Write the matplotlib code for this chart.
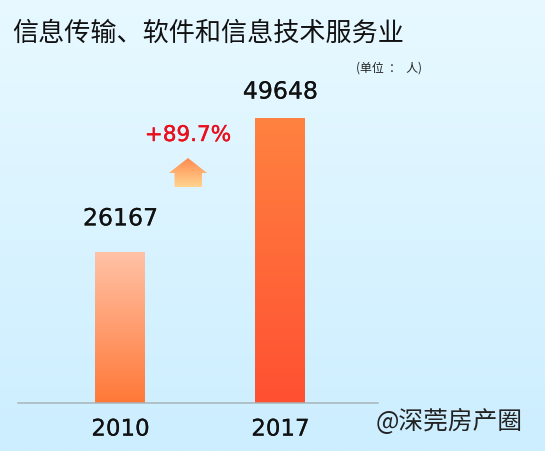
# -*- coding: utf-8 -*-
import numpy as np
import matplotlib
matplotlib.use('Agg')
import matplotlib.pyplot as plt
import matplotlib.patheffects as pe
from matplotlib.colors import LinearSegmentedColormap
from matplotlib.patches import Polygon

plt.rcParams['font.family'] = ['Noto Sans CJK SC', 'DejaVu Sans']

years = ['2010', '2017']
values = [26167, 49648]
growth_label = '+89.7%'
title = '信息传输、软件和信息技术服务业'
unit_label = '(单位  ：  人)'
watermark = '@深莞房产圈'

W, H = 545, 452
fig = plt.figure(figsize=(W / 100, H / 100), dpi=100)

# 背景渐变
bg = fig.add_axes([0, 0, 1, 1], zorder=0)
bg_cmap = LinearSegmentedColormap.from_list('bg', ['#E8F9FF', '#CCEEFF'])
bg.imshow(np.linspace(0, 1, 256).reshape(-1, 1), aspect='auto', cmap=bg_cmap,
          extent=[0, W, H, 0])
bg.set_xlim(0, W)
bg.set_ylim(H, 0)
bg.axis('off')

# 柱状图，基线 y=403px，49648 对应 y=118px
ax = fig.add_axes([18 / W, (H - 403.6) / H, 360 / W, 403 / H], zorder=1)
ax.patch.set_alpha(0)
ylim_top = max(values) * 403 / 285
ax.set_xlim(-0.64, 1.61)
ax.set_ylim(0, ylim_top)
bar_width = 0.3125
bar_colors = [('#FFC2A6', '#FF7838'), ('#FF8240', '#FF5032')]
xs = np.arange(len(years))
bars = ax.bar(xs, values, width=bar_width, color='none')
grad = np.linspace(0, 1, 256).reshape(-1, 1)
for bar, (top, bottom) in zip(bars, bar_colors):
    cmap = LinearSegmentedColormap.from_list('bar', [top, bottom])
    ax.imshow(grad, aspect='auto', cmap=cmap, zorder=2,
              extent=[bar.get_x(), bar.get_x() + bar.get_width(), 0, bar.get_height()])
ax.set_xlim(-0.64, 1.61)
ax.set_ylim(0, ylim_top)

for s in ['top', 'left', 'right']:
    ax.spines[s].set_visible(False)
ax.spines['bottom'].set_color('#A8B4BA')
ax.spines['bottom'].set_linewidth(1.1)
ax.set_yticks([])
ax.set_xticks([])

# 数值和年份标签，两个数值离柱顶的距离不一样
value_offsets = [22, 14]
stroke = [pe.withStroke(linewidth=0.15, foreground='#111111')]
for x, v, y, off in zip(xs, values, years, value_offsets):
    ax.annotate(str(v), (x, v), xytext=(0, off), textcoords='offset pixels',
                ha='center', va='bottom', fontsize=17, color='#111111',
                family='DejaVu Sans', path_effects=stroke)
    ax.annotate(y, (x, 0), xytext=(0, -38), textcoords='offset pixels',
                ha='center', va='bottom', fontsize=16.5, color='#111111',
                family='DejaVu Sans', path_effects=stroke)

# 箭头
arrow = [(188, 159), (207, 174), (202, 174), (202, 188), (174.5, 188), (174.5, 174), (169, 174)]
arrow_cmap = LinearSegmentedColormap.from_list('arrow', ['#FF8A50', '#FFD590'])
im = bg.imshow(grad, aspect='auto', cmap=arrow_cmap, extent=[169, 207, 188, 159], zorder=3)
im.set_clip_path(Polygon(arrow, closed=True, transform=bg.transData))
bg.set_xlim(0, W)
bg.set_ylim(H, 0)

# 文字
bg.text(12, 33, title, fontsize=18.8, color='#111111', ha='left', va='center')
bg.text(388.5, 68, unit_label, fontsize=8.6, color='#222222', ha='center', va='center')
bg.text(188, 136, growth_label, fontsize=15.5, color='#E8101C', ha='center', va='center',
        family='DejaVu Sans', path_effects=[pe.withStroke(linewidth=0.3, foreground='#E8101C')])
bg.text(449.5, 422, watermark, fontsize=17.8, color='#222222', ha='center', va='center')

fig.savefig('out.png', dpi=100)
